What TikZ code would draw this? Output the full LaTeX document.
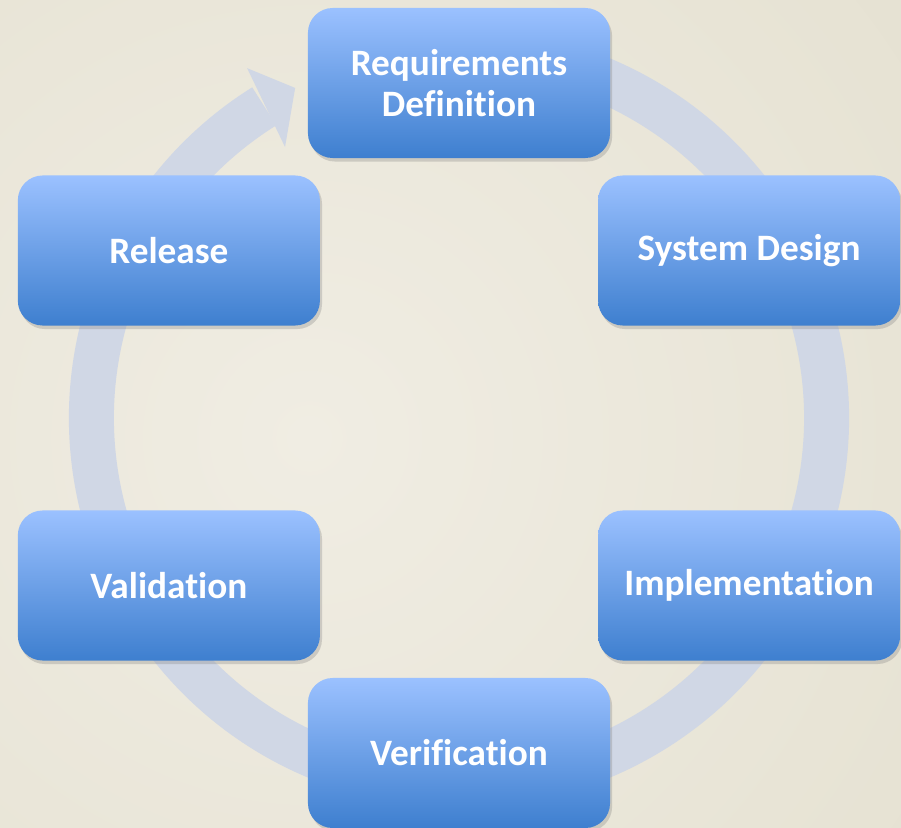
\documentclass[tikz,border=0pt]{standalone}
\usepackage{fontspec}
\setmainfont[Ligatures=NoCommon]{Carlito}
\usetikzlibrary{shadows}
\definecolor{bglight}{RGB}{240,237,227}
\definecolor{bgdark}{RGB}{221,216,196}
\definecolor{ringcol}{RGB}{208,215,229}
\definecolor{boxtop}{RGB}{155,193,255}
\definecolor{boxmid}{RGB}{120,165,235}
\definecolor{boxbot}{RGB}{62,127,207}
\begin{document}
\begin{tikzpicture}[x=0.025cm, y=0.025cm, font=\bfseries\fontsize{26.5}{29}\selectfont,
    stage/.style={rounded corners=0.62cm, minimum width=7.55cm, minimum height=3.75cm,
      top color=boxtop, middle color=boxmid, bottom color=boxbot, text=white, align=center,
      drop shadow={opacity=0.3, shadow xshift=1.5pt, shadow yshift=-2.5pt}}]
        % background
        \useasboundingbox (-459,-410) rectangle (442,418);
        \fill[bgdark] (-459,-410) rectangle (442,418);
        \begin{scope}
          \clip (-459,-410) rectangle (442,418);
          \shade[inner color=bglight, outer color=bgdark] (-150,-20) circle (1400);
        \end{scope}
        % cycle ring with arrow head
        \draw[ringcol, line width=1.125cm] (70:367.5) arc[start angle=70, end angle=-238, radius=367.5];
        \fill[ringcol] (116.4:368.5) -- (121.2:409) -- (122.7:322) -- cycle;
        % stages
        \node[stage] (req) at (90:335) {Requirements\\Definition};
        \node[stage] (sysdes) at (30:335) {System Design};
        \node[stage] (impl) at (-30:335) {Implementation};
        \node[stage] (verif) at (-90:335) {Verification};
        \node[stage] (valid) at (-150:335) {Validation};
        \node[stage] (rel) at (150:335) {Release};
\end{tikzpicture}
\end{document}
